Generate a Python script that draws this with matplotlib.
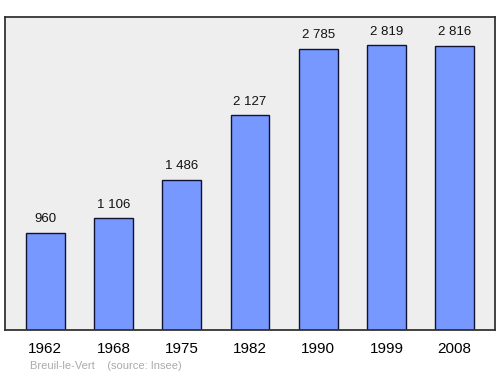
import matplotlib.pyplot as plt
import numpy as np

plt.rcParams['font.family'] = ['Liberation Sans', 'DejaVu Sans']

annees = ['1962', '1968', '1975', '1982', '1990', '1999', '2008']
population = [960, 1106, 1486, 2127, 2785, 2819, 2816]
etiquettes = ['960', '1 106', '1 486', '2 127', '2 785', '2 819', '2 816']

fig = plt.figure(figsize=(5, 3.74), dpi=100)
ax = fig.add_axes([0.01, 0.118, 0.98, 0.837])
ax.set_facecolor('#eeeeee')

x_pos = np.arange(len(annees))
ax.bar(x_pos, population, width=0.57, color='#7799ff', edgecolor='#111133', linewidth=1)

# etiquette au-dessus de chaque barre
for x, v, lab in zip(x_pos, population, etiquettes):
    ax.text(x, v + 75, lab, ha='center', va='bottom', fontsize=9.5, color='#111111')

ax.set_xlim(-0.59, 6.59)
ax.set_ylim(0, 3100)
ax.set_xticks(x_pos)
ax.set_xticklabels(annees, fontsize=11)
ax.tick_params(axis='x', length=0, pad=9)
ax.set_yticks([])
for s in ax.spines.values():
    s.set_color('#333333')
    s.set_linewidth(1.3)

fig.text(0.06, 0.014, 'Breuil-le-Vert    (source: Insee)', fontsize=8, color='#aaaaaa')

fig.savefig('out.png', dpi=100)
